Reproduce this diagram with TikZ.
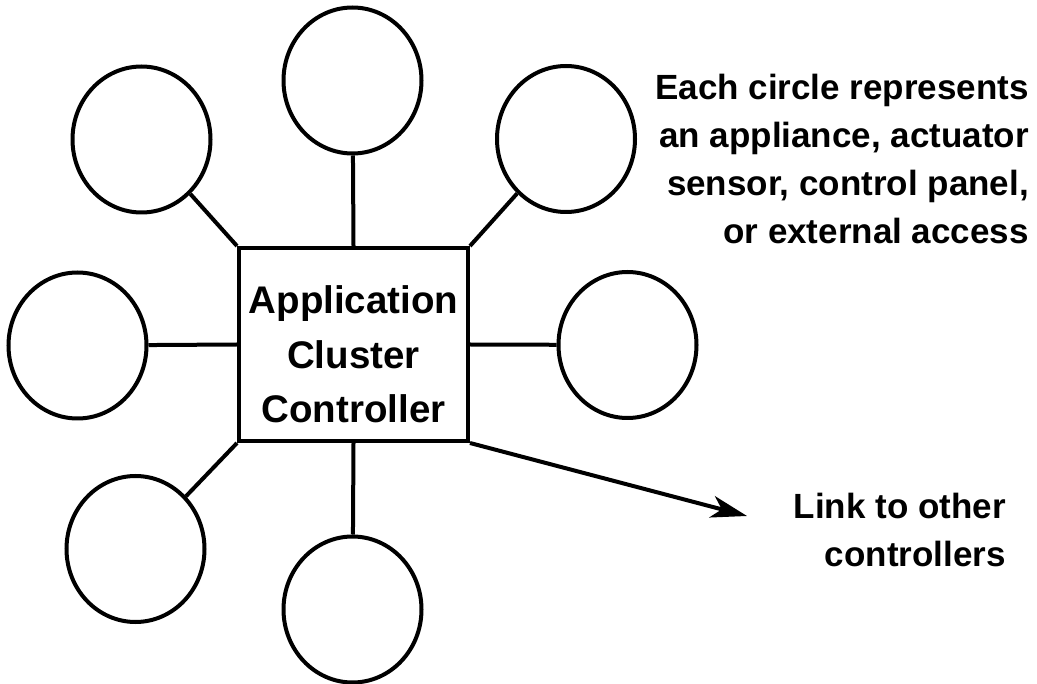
\documentclass[tikz,border=0pt]{standalone}
\usepackage{fontspec}
\setmainfont{Liberation Sans}
\usetikzlibrary{shapes.geometric,arrows.meta}
\begin{document}
\begin{tikzpicture}[x=1pt,y=-1pt,
  dev/.style={ellipse,draw,line width=4pt,minimum width=138pt,minimum height=146pt,inner sep=0pt},
  link/.style={line width=4pt},
  ctrl/.style={draw,line width=4pt,minimum width=229pt,minimum height=193pt,inner sep=0pt},
  ctrltext/.style={font=\bfseries\fontsize{38.5}{54.5}\selectfont,align=center,inner sep=0pt},
  lbl/.style={font=\bfseries\fontsize{35}{48}\selectfont,align=right,inner sep=0pt}]
\useasboundingbox (0,0) rectangle (1037,684);
\node[ctrl] (acc) at (353.5,344.5) {};
\node[ctrltext,anchor=north] (acct) at (353.5,285.5) {Application\\Cluster\\Controller};
\node[dev] (c1) at (141.5,139.5) {};
\node[dev] (c2) at (352.5,80.5) {};
\node[dev] (c3) at (566,139) {};
\node[dev] (c4) at (77.5,345.5) {};
\node[dev] (c5) at (627.5,345) {};
\node[dev] (c6) at (135.5,549) {};
\node[dev] (c7) at (352.5,609.5) {};
\coordinate (tip) at (747,516);
\draw[link] (c1) -- (acc.north west);
\draw[link] (c2) -- (acc.north);
\draw[link] (c3) -- (acc.north east);
\draw[link] (c4) -- (acc.west);
\draw[link] (c5) -- (acc.east);
\draw[link] (acc.south west) -- (c6);
\draw[link] (acc.south) -- (c7);
\draw[link,-{Stealth[length=36pt,width=22pt,inset=10pt]}] (acc.south east) -- (tip);
\node[lbl,anchor=north east] (note) at (1029,74) {Each circle represents\\an appliance, actuator\\sensor, control panel,\\or external access};
\node[lbl,anchor=north east] (linktxt) at (1006,493) {Link to other\\controllers};
\end{tikzpicture}
\end{document}
